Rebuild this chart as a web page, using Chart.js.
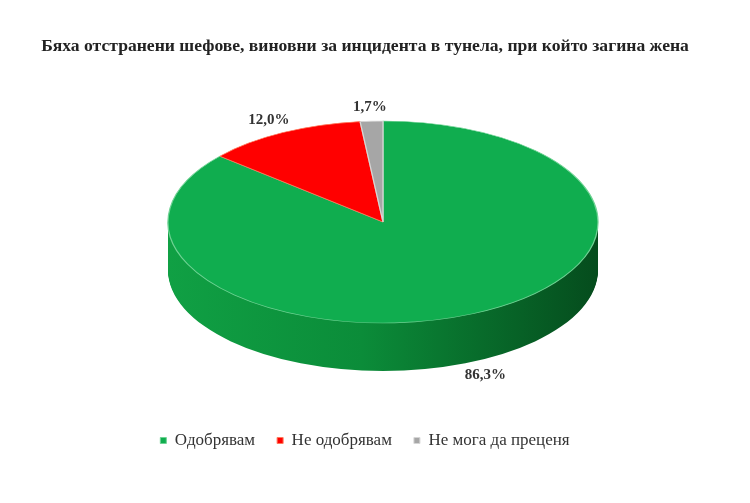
<!DOCTYPE html>
<html lang="bg">
<head>
<meta charset="UTF-8">
<title>Бяха отстранени шефове</title>
<script src="https://cdn.jsdelivr.net/npm/chart.js"></script>
<style>
  html, body { margin: 0; padding: 0; background: #fff; }
  #wrap { width: 750px; height: 503px; }
</style>
</head>
<body>
<div id="wrap"><canvas id="chart"></canvas></div>
<script>
// данни
const labels = ['Одобрявам', 'Не одобрявам', 'Не мога да преценя'];
const values = [86.3, 12.0, 1.7];
const topColors = ['#10ad4f', '#ff0000', '#a6a6a6'];
const edgeColors = ['#6fd394', '#ff7a5c', '#d6d6d6'];
const sideColors = ['#0a8a38', '#a00000', '#707070'];
const titleText = 'Бяха отстранени шефове, виновни за инцидента в тунела, при който загина жена';

// геометрия на "3D" елипсата
const CX = 383, CY = 222, RX = 215, RY = 101, DEPTH = 48, K = 1.14;

const pie3d = {
  id: 'pie3d',
  beforeDatasetsDraw(chart) {
    const arcs = chart.getDatasetMeta(0).data;
    const x = arcs[0].x, y = arcs[0].y, R = arcs[0].outerRadius;
    const ctx = chart.ctx;
    ctx.save();
    ctx.translate(CX, CY);
    ctx.scale(RX / R, RY / R);
    ctx.translate(-x, -y);
    const step = R / RY;
    const grad = ctx.createLinearGradient(x - R, 0, x + R, 0);
    grad.addColorStop(0, '#10a044');
    grad.addColorStop(0.45, '#0b8c39');
    grad.addColorStop(1, '#054c1d');
    // боковата стена, слой по слой
    for (let d = DEPTH; d > 0; d--) {
      arcs.forEach(function (a, i) {
        ctx.beginPath();
        ctx.moveTo(x, y + d * step);
        ctx.arc(x, y + d * step, R, a.startAngle, a.endAngle);
        ctx.closePath();
        ctx.fillStyle = i === 0 ? grad : sideColors[i];
        ctx.fill();
      });
    }
  },
  afterDatasetsDraw(chart) {
    const ctx = chart.ctx;
    ctx.restore();
    const arcs = chart.getDatasetMeta(0).data;
    ctx.save();
    ctx.font = 'bold 15px "Liberation Serif", serif';
    ctx.fillStyle = '#333';
    ctx.textAlign = 'center';
    ctx.textBaseline = 'middle';
    arcs.forEach(function (a, i) {
      const mid = (a.startAngle + a.endAngle) / 2;
      const s = Math.sin(mid);
      const px = CX + K * RX * Math.cos(mid);
      const py = CY + K * RY * s + (s > 0 ? DEPTH : 0);
      ctx.fillText(values[i].toFixed(1).replace('.', ',') + '%', px, py);
    });
    ctx.restore();
  }
};

new Chart(document.getElementById('chart'), {
  type: 'pie',
  data: {
    labels: labels,
    datasets: [{
      data: values,
      backgroundColor: topColors,
      borderColor: edgeColors,
      borderWidth: 1,
      clip: false
    }]
  },
  options: {
    responsive: true,
    maintainAspectRatio: false,
    animation: false,
    layout: { padding: { top: 0, right: 20, bottom: 44, left: 0 } },
    plugins: {
      title: {
        display: true,
        text: titleText,
        color: '#222',
        font: { family: '"Liberation Serif", serif', size: 17.6, weight: 'bold' },
        padding: { top: 36, bottom: 20 }
      },
      legend: {
        position: 'bottom',
        labels: {
          usePointStyle: true,
          pointStyle: 'rect',
          boxWidth: 6,
          boxHeight: 6,
          padding: 22,
          color: '#333',
          font: { family: '"Liberation Serif", serif', size: 17 }
        }
      },
      tooltip: { enabled: false }
    }
  },
  plugins: [pie3d]
});
</script>
</body>
</html>
